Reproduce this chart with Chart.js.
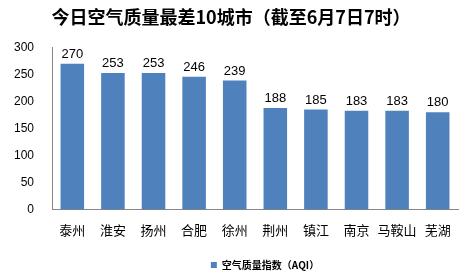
<!DOCTYPE html>
<html><head><meta charset="utf-8">
<script src="https://cdn.jsdelivr.net/npm/chart.js@4"></script>
<style>html,body{margin:0;padding:0;background:#fff}#c{display:block}</style>
</head><body>
<canvas id="c" width="468" height="280"></canvas>
<script>
const titleText = '今日空气质量最差10城市（截至6月7日7时）';
const cities = ['泰州','淮安','扬州','合肥','徐州','荆州','镇江','南京','马鞍山','芜湖'];
const aqi = [270,253,253,246,239,188,185,183,183,180];
const seriesName = '空气质量指数（AQI）';
const yTicks = [0,50,100,150,200,250,300];

const cjk = '"Noto Sans CJK SC", sans-serif';
const latin = '"Liberation Sans", Arial, sans-serif';

const valueLabels = {
  id: 'valueLabels',
  afterDatasetsDraw(chart) {
    const ctx = chart.ctx;
    const meta = chart.getDatasetMeta(0);
    ctx.save();
    ctx.font = '13px ' + latin;
    ctx.fillStyle = '#000';
    ctx.textAlign = 'center';
    ctx.textBaseline = 'bottom';
    meta.data.forEach((bar, i) => {
      ctx.fillText(String(chart.data.datasets[0].data[i]), bar.x, bar.y - 3);
    });
    ctx.restore();
  }
};
const shiftLegend = {
  id: 'shiftLegend',
  afterLayout(chart) {
    const lg = chart.legend;
    if (lg) { lg.left += 34; lg.right += 34; }
  }
};

new Chart(document.getElementById('c'), {
  type: 'bar',
  data: {
    labels: cities,
    datasets: [{
      label: seriesName,
      data: aqi,
      backgroundColor: '#4F81BD',
      barPercentage: 0.58,
      categoryPercentage: 1
    }]
  },
  options: {
    responsive: false,
    animation: false,
    layout: { padding: { left: 4, right: 10, top: 4, bottom: 0 } },
    plugins: {
      title: {
        display: true, text: titleText, color: '#000',
        font: { family: cjk, size: 18, weight: 'bold' },
        padding: { top: 2, bottom: 20 }
      },
      legend: {
        position: 'bottom',
        labels: {
          boxWidth: 6, boxHeight: 6, color: '#000',
          font: { family: cjk, size: 10, weight: 'bold' },
          padding: 8
        }
      },
      tooltip: { enabled: false }
    },
    scales: {
      x: {
        grid: { display: false },
        border: { display: true, color: '#868686', width: 1 },
        afterFit(scale) { scale.height += 9; },
        ticks: { color: '#000', font: { family: cjk, size: 13 }, padding: 5, maxRotation: 0, autoSkip: false }
      },
      y: {
        min: 0, max: 300,
        grid: { display: false },
        border: { display: true, color: '#868686', width: 1 },
        afterBuildTicks(axis) { axis.ticks = yTicks.map(v => ({ value: v })); },
        ticks: { color: '#000', font: { family: latin, size: 12 }, padding: 10 }
      }
    }
  },
  plugins: [valueLabels, shiftLegend]
});
</script>
</body></html>
